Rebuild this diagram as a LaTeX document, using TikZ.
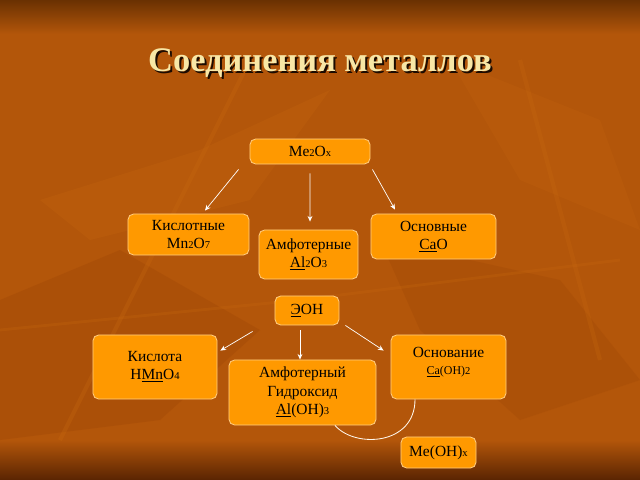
\documentclass[tikz,border=0pt]{standalone}
\usepackage{fontspec}
\setmainfont{Liberation Serif}
\usetikzlibrary{arrows.meta, positioning, calc}
\definecolor{bgmid}{HTML}{B3560A}
\definecolor{bgtop}{HTML}{6A3102}
\definecolor{bgbot}{HTML}{5A2402}
\definecolor{leaf}{HTML}{C8690F}
\definecolor{leafdark}{HTML}{9A4306}
\definecolor{boxfill}{HTML}{FF9900}
\definecolor{boxline}{HTML}{FFCC80}
\definecolor{titlecol}{HTML}{F8E7A6}
\newcommand{\sm}[1]{{\fontsize{7.5}{8}\selectfont #1}}

\begin{document}
\begin{tikzpicture}[x=0.025cm,y=-0.025cm,
    box/.style={rectangle,rounded corners=4pt,draw=boxline,line width=0.6pt,fill=boxfill,
      align=center,font=\fontsize{11}{13}\selectfont,inner sep=1pt},
    arr/.style={draw=white,line width=0.5pt,-{Stealth[length=4pt,width=3.5pt]}}]
    % Background
    \useasboundingbox (0,0) rectangle (640,480);
    \fill[bgmid] (0,0) rectangle (640,480);
    \shade[top color=bgtop,bottom color=bgmid] (0,0) rectangle (640,34);
    \shade[top color=bgmid,bottom color=bgbot] (0,440) rectangle (640,480);
    \fill[leafdark,opacity=0.3] (0,300) -- (120,250) -- (260,330) -- (160,420) -- (0,440) -- cycle;
    \fill[leaf,opacity=0.25] (40,200) -- (200,150) -- (330,90) -- (250,200) -- (90,240) -- cycle;
    \fill[leaf,opacity=0.2] (450,60) -- (600,120) -- (640,230) -- (520,180) -- cycle;
    \fill[leafdark,opacity=0.25] (380,240) -- (560,280) -- (640,380) -- (520,420) -- (420,330) -- cycle;
    \draw[leaf,opacity=0.3,line width=3pt] (60,440) -- (250,60);
    \draw[leaf,opacity=0.25,line width=3pt] (520,60) -- (600,360);
    \draw[leaf,opacity=0.25,line width=2pt] (0,330) -- (300,300) -- (620,260);

    % Title
    \node[font=\bfseries\fontsize{24.5}{28}\selectfont,text=black!70!bgbot] at (322,65) {Соединения металлов};
    \node[font=\bfseries\fontsize{24.5}{28}\selectfont,text=titlecol] (title) at (320,63) {Соединения металлов};

    % Oxides
    \node[box,minimum width=120*0.7113pt,minimum height=25*0.7113pt] (oxide) at (310,151.5) {Me\sm{2}O\sm{x}};
    \node[box,minimum width=121*0.7113pt,minimum height=41*0.7113pt] (acidox) at (188.5,234.5) {Кислотные\\Mn\sm{2}O\sm{7}};
    \node[box,minimum width=99*0.7113pt,minimum height=49*0.7113pt] (amphox) at (308.5,254.5) {Амфотерные\\\underline{Al}\sm{2}O\sm{3}};
    \node[box,minimum width=125*0.7113pt,minimum height=45*0.7113pt] (basicox) at (433.5,236.5) {Основные\\\underline{Ca}O};

    \draw[arr] ($(oxide.south west)+(-11,5)$) -- ($(acidox.north)+(16.5,-3)$);
    \draw[arr] ($(oxide.south)+(0,9)$) -- ($(amphox.north)+(1.5,-8)$);
    \draw[arr] ($(oxide.south east)+(2,5)$) -- ($(basicox.north)+(-38.5,-4)$);

    % Hydroxides
    \node[box,minimum width=64*0.7113pt,minimum height=29*0.7113pt] (hydrox) at (307,310.5) {\underline{Э}OH};
    \node[box,minimum width=124*0.7113pt,minimum height=64*0.7113pt] (acid) at (155,367) {Кислота\\H\underline{Mn}O\sm{4}};
    \node[box,minimum width=147*0.7113pt,minimum height=65*0.7113pt] (amphhyd) at (302.5,392.5) {Амфотерный\\Гидроксид\\\underline{Al}(OH)\sm{3}};
    \node[box,minimum width=115*0.7113pt,minimum height=64*0.7113pt] (base) at (448.5,367) {Основание\\[-1pt]{\fontsize{8.5}{10}\selectfont\underline{Ca}(OH)\sm{2}}\\[-4pt]};
    \node[box,minimum width=75*0.7113pt,minimum height=31*0.7113pt] (baseform) at (438.5,452.5) {Me(OH)\sm{x}};

    \draw[arr] ($(hydrox.south west)+(-22,6)$) -- ($(acid.north east)+(3,16)$);
    \draw[arr] ($(hydrox.south)+(-7,5)$) -- ($(amphhyd.north)+(-2.5,0)$);
    \draw[arr] ($(hydrox.south east)+(6,0)$) -- ($(base.north west)+(-7,16)$);

    % Arc between amphoteric hydroxide and base
    \draw[white!85!boxline,line width=0.6pt] ($(amphhyd.south)+(32.5,0)$) .. controls ($(amphhyd.south)+(52.5,23)$) and ($(base.south)+(-33.5,46)$) .. ($(base.south)+(-33.5,0)$);
\end{tikzpicture}
\end{document}
